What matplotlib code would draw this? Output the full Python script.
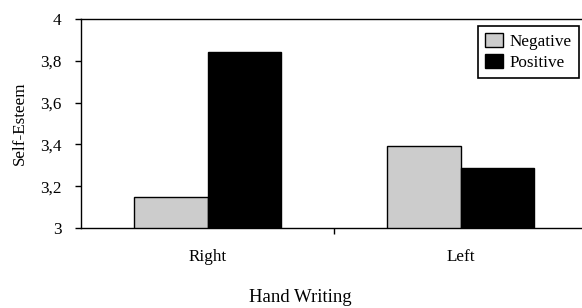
import numpy as np
import matplotlib.pyplot as plt
from matplotlib import ticker

plt.rcParams['font.family'] = ['Liberation Serif', 'DejaVu Serif']

# data
categories = ['Right', 'Left']
negative = [3.15, 3.39]
positive = [3.84, 3.285]
series_names = ['Negative', 'Positive']
y_ticks = [3, 3.2, 3.4, 3.6, 3.8, 4]

W, H = 582, 308
fig = plt.figure(figsize=(W / 100, H / 100), dpi=100)
ax = fig.add_axes([81 / W, (H - 228) / H, 506 / W, 209 / H])

x = np.arange(len(categories))
width = 0.29
ax.bar(x - width / 2, negative, width, bottom=0, color='#cccccc', edgecolor='black', linewidth=1, label=series_names[0])
ax.bar(x + width / 2, positive, width, bottom=0, color='black', edgecolor='black', linewidth=1, label=series_names[1])

ax.set_ylim(3, 4)
ax.set_xlim(-0.5, 1.5)
ax.set_yticks(y_ticks)
ax.yaxis.set_major_formatter(ticker.FuncFormatter(lambda v, p: f'{v:g}'.replace('.', ',')))
ax.set_xticks(x)
ax.set_xticklabels(categories)
ax.xaxis.set_minor_locator(ticker.FixedLocator([0.5]))
ax.tick_params(axis='x', which='major', length=0, pad=15, labelsize=12.3)
ax.tick_params(axis='x', which='minor', length=4, width=1, direction='out')
ax.tick_params(axis='y', length=4, width=1, direction='out', labelsize=12.3, pad=10)

for s in ax.spines.values():
    s.set_linewidth(1)
ax.spines['right'].set_visible(False)

ax.set_ylabel('Self-Esteem', fontsize=12.3, labelpad=9)
# x-axis title sits centred on the page, not on the axes
fig.text(300 / W, 1 - 297 / H, 'Hand Writing', fontsize=13.5, ha='center', va='center')

leg = ax.legend(loc='upper left', bbox_to_anchor=(397 / 506, 1 - 7 / 209), fontsize=12.3,
                frameon=True, fancybox=False, edgecolor='black', framealpha=1,
                handlelength=1.05, handleheight=0.9, handletextpad=0.4,
                borderpad=0.4, labelspacing=0.25, borderaxespad=0)
leg.get_frame().set_linewidth(1.2)

fig.savefig('out.png', dpi=100)
